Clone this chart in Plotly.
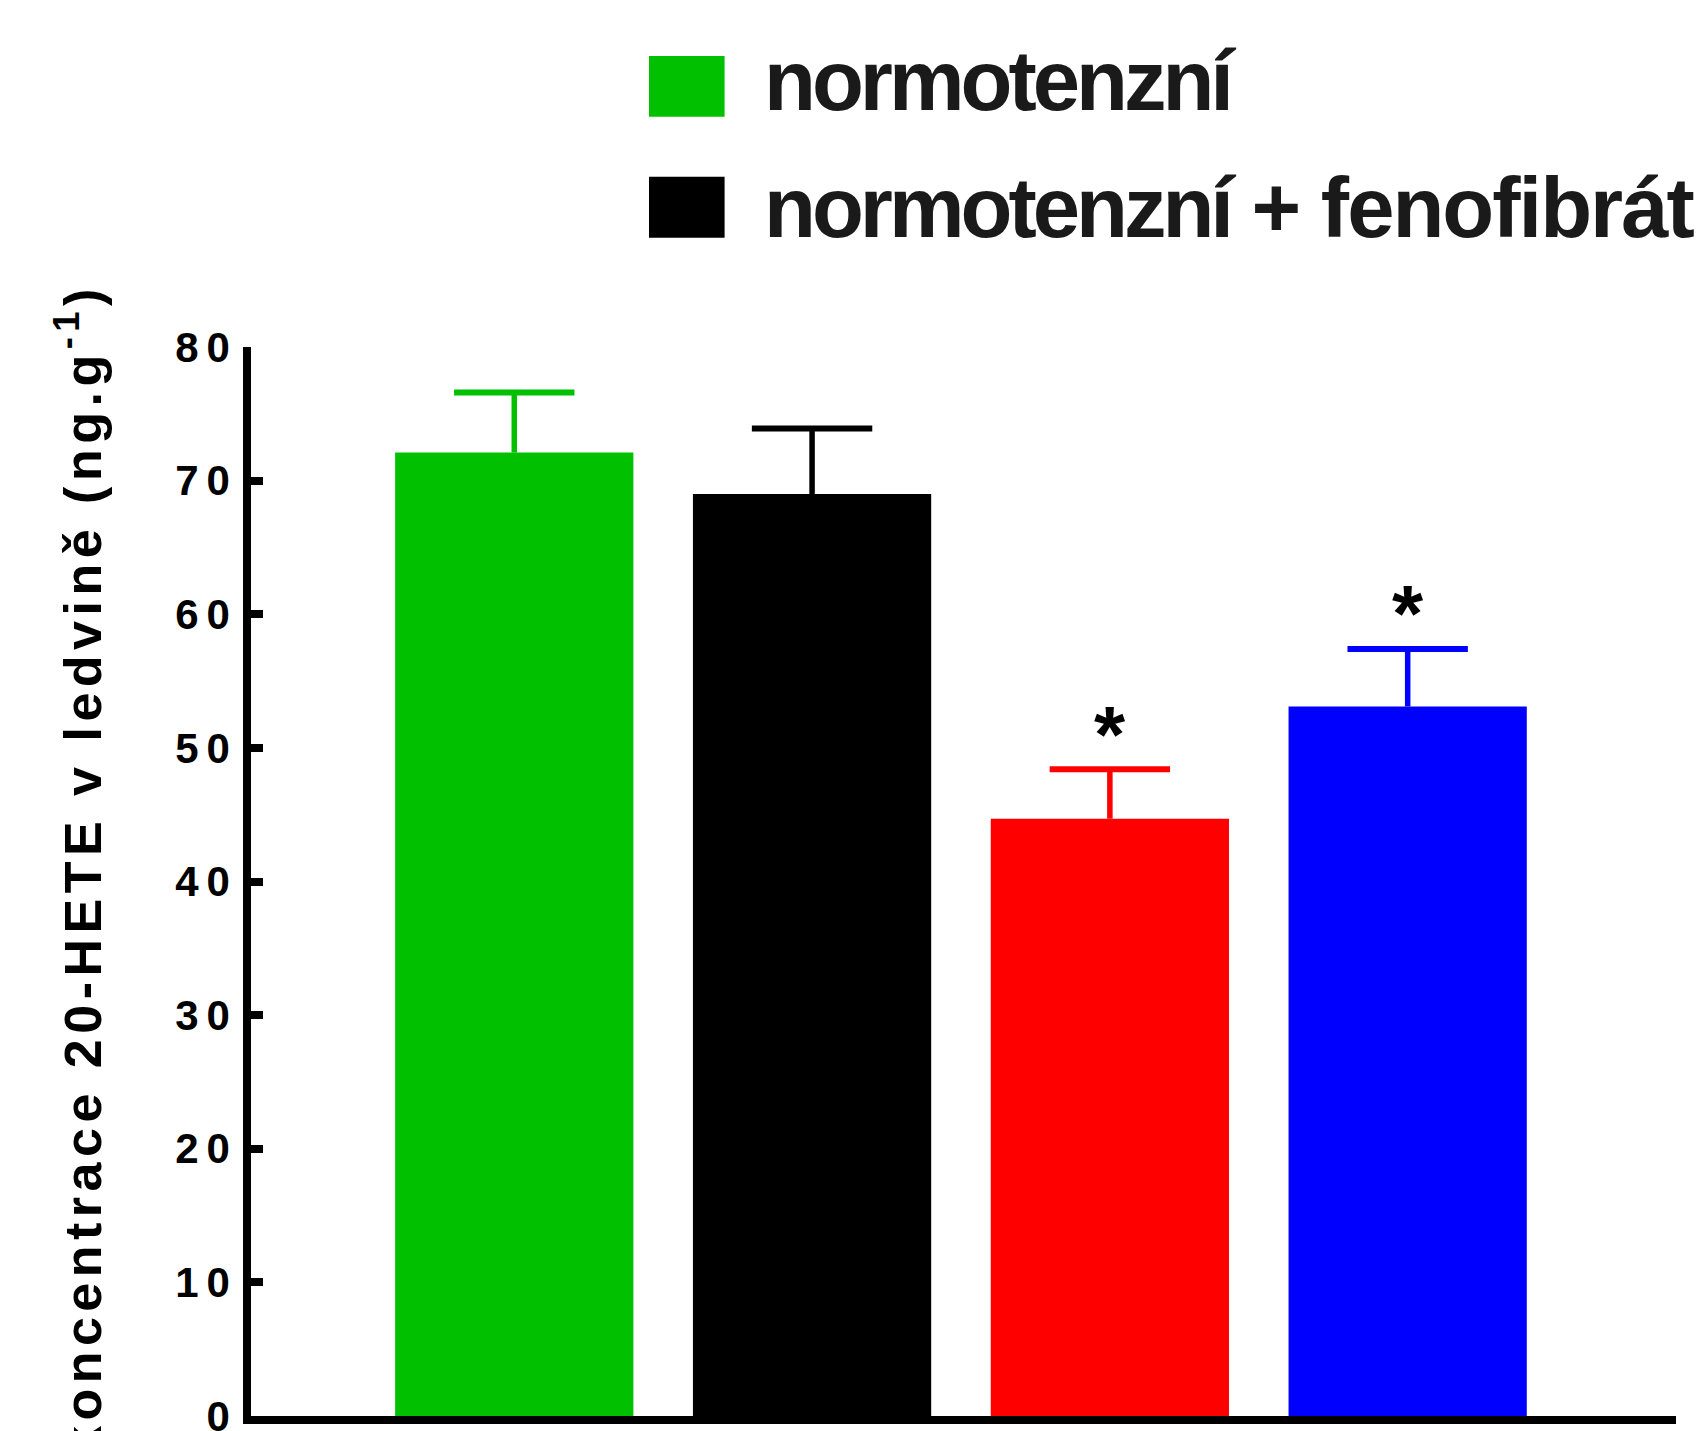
import plotly.graph_objects as go

# ---- data -------------------------------------------------------------
group_names = ["normotenzní", "normotenzní + fenofibrát", "skupina 3", "skupina 4"]
x_pos = [0, 1, 2, 3]
mean_values = [72.1, 69.0, 44.7, 53.1]
sem_values = [4.5, 4.9, 3.7, 4.3]
significant = [False, False, True, True]
bar_colors = ["#00C000", "#000000", "#FF0000", "#0000FF"]

y_tick_values = [0, 10, 20, 30, 40, 50, 60, 70, 80]
legend_labels = ["normotenzní", "normotenzní + fenofibrát"]
legend_colors = ["#00C000", "#000000"]

y_title = "koncentrace 20-HETE v ledvině (ng.g<sup>-1</sup>)"

# ---- layout geometry (pixels) -----------------------------------------
W, H = 1697, 1431
ML, MR, MT, MB = 251, 21, 347, 15
PW, PH = W - ML - MR, H - MT - MB

FONT = "Liberation Sans, Arial, Helvetica, sans-serif"


def px_x(px):
    return (px - ML) / PW


def px_y(py):
    return (H - MB - py) / PH


def spaced_tick(v):
    s = str(v)
    if len(s) == 1:
        return s
    return '<span style="letter-spacing:8px">' + s[:-1] + "</span>" + s[-1]


def legend_text(label):
    # slightly tighter tracking for the first word, looser for the rest
    head, sep, tail = label.partition(" ")
    out = '<span style="letter-spacing:-4px">' + head + "</span>"
    if sep:
        out += '<span style="letter-spacing:-2px"> ' + tail + "</span>"
    return out


fig = go.Figure()

# bars with upward error stems (caps drawn as a separate marker layer)
for name, x, m, e, c in zip(group_names, x_pos, mean_values, sem_values, bar_colors):
    fig.add_trace(
        go.Bar(
            x=[x],
            y=[m],
            name=name,
            width=0.8,
            marker=dict(color=c, line=dict(width=0)),
            error_y=dict(
                type="data",
                array=[e],
                arrayminus=[0],
                symmetric=False,
                color=c,
                thickness=5.5,
                width=0,
            ),
            showlegend=False,
            hoverinfo="skip",
        )
    )

# error-bar caps at mean + SEM
fig.add_trace(
    go.Scatter(
        x=x_pos,
        y=[m + e for m, e in zip(mean_values, sem_values)],
        mode="markers",
        marker=dict(
            symbol="line-ew",
            size=86,
            color=bar_colors,
            line=dict(width=6, color=bar_colors),
        ),
        showlegend=False,
        hoverinfo="skip",
        cliponaxis=False,
    )
)

annotations = []

# significance marks above the error bars
for x, m, e, sig in zip(x_pos, mean_values, sem_values, significant):
    if sig:
        annotations.append(
            dict(
                x=x, y=m + e, xref="x", yref="y",
                text="*", showarrow=False,
                xanchor="center", yanchor="middle", yshift=35,
                font=dict(family=FONT, size=80, color="black", weight="bold"),
            )
        )

# legend: colour boxes and labels
box_rows = [(56, 116.7), (176.7, 237.7)]
text_centers = [81, 208]
shapes = []
for (top, bottom), label, col, tc in zip(box_rows, legend_labels, legend_colors, text_centers):
    shapes.append(
        dict(
            type="rect", xref="paper", yref="paper",
            x0=px_x(649), x1=px_x(724.6), y0=px_y(bottom), y1=px_y(top),
            fillcolor=col, line=dict(width=0),
        )
    )
    annotations.append(
        dict(
            x=px_x(762), y=px_y(tc), xref="paper", yref="paper",
            text=legend_text(label),
            showarrow=False, xanchor="left", yanchor="middle",
            font=dict(family=FONT, size=85, color="#1a1a1a", weight="bold"),
        )
    )

# rotated y-axis title
annotations.append(
    dict(
        x=px_x(79), y=px_y(869), xref="paper", yref="paper",
        text='<span style="letter-spacing:5.5px">' + y_title + "</span>",
        textangle=-90, showarrow=False,
        xanchor="center", yanchor="middle",
        font=dict(family=FONT, size=52, color="black", weight="bold"),
    )
)

fig.update_layout(
    width=W,
    height=H,
    margin=dict(l=ML, r=MR, t=MT, b=MB, pad=0, autoexpand=False),
    paper_bgcolor="white",
    plot_bgcolor="white",
    barmode="overlay",
    showlegend=False,
    annotations=annotations,
    shapes=shapes,
    xaxis=dict(
        range=[-0.884, 3.901],
        showline=True, linewidth=7.5, linecolor="black",
        showgrid=False, zeroline=False,
        showticklabels=False, ticks="",
        automargin=False,
    ),
    yaxis=dict(
        range=[0, 80],
        tickmode="array",
        tickvals=y_tick_values,
        ticktext=[spaced_tick(v) for v in y_tick_values],
        ticks="inside", ticklen=12, tickwidth=7.5, tickcolor="black",
        showline=True, linewidth=7.5, linecolor="black",
        showgrid=False, zeroline=False,
        automargin=False,
        ticklabeloverflow="allow",
        ticklabelstandoff=5,
        tickfont=dict(family=FONT, size=42, color="black", weight="bold"),
    ),
)

fig.write_html("out.html")
